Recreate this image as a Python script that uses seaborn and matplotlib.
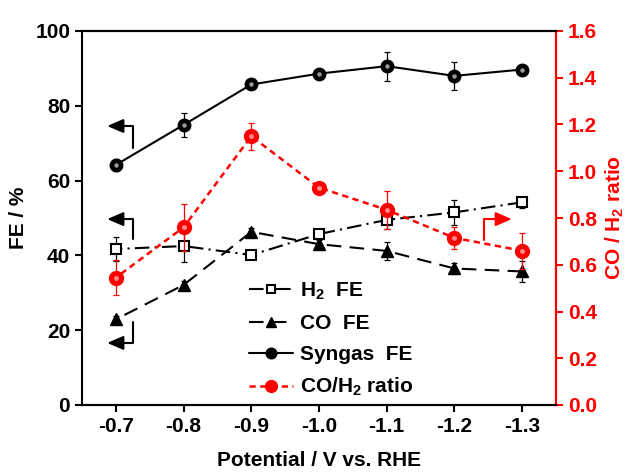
import numpy as np
import pandas as pd
import matplotlib
matplotlib.use("Agg")
import matplotlib.pyplot as plt
import seaborn as sns

# data
potential = [-0.7, -0.8, -0.9, -1.0, -1.1, -1.2, -1.3]
x_labels = ["-0.7", "-0.8", "-0.9", "-1.0", "-1.1", "-1.2", "-1.3"]
h2_fe = [41.7, 42.5, 40.1, 45.7, 49.5, 51.5, 54.2]
h2_err = [3.2, 4.3, 1.0, 1.0, 2.5, 3.3, 1.5]
co_fe = [22.9, 32.1, 46.3, 43.0, 41.2, 36.5, 35.7]
co_err = [1.0, 1.0, 1.0, 1.0, 2.5, 1.5, 2.9]
syngas_fe = [64.2, 74.9, 85.7, 88.6, 90.6, 88.0, 89.7]
syngas_err = [1.5, 3.3, 1.0, 1.0, 3.9, 3.7, 1.0]
ratio = [0.545, 0.76, 1.15, 0.93, 0.835, 0.715, 0.66]
ratio_err = [0.075, 0.10, 0.057, 0.02, 0.08, 0.047, 0.077]

df = pd.DataFrame({"potential": potential, "h2": h2_fe, "co": co_fe,
                   "syngas": syngas_fe, "ratio": ratio})

sns.set_style("ticks")
plt.rcParams["font.family"] = ["Liberation Sans", "DejaVu Sans"]
plt.rcParams["font.weight"] = "bold"
plt.rcParams["axes.unicode_minus"] = False
plt.rcParams["mathtext.fontset"] = "custom"
plt.rcParams["mathtext.rm"] = "Liberation Sans:bold"
plt.rcParams["mathtext.bf"] = "Liberation Sans:bold"
plt.rcParams["mathtext.default"] = "bf"
for k in ["text.color", "axes.labelcolor", "xtick.color", "ytick.color",
          "axes.edgecolor"]:
    plt.rcParams[k] = "black"

fs = 15
red = "#ff0000"

fig, ax = plt.subplots(figsize=(6.33, 4.74), dpi=100)
fig.subplots_adjust(left=82/633, right=556/633, bottom=1-405/474, top=1-31/474)
ax2 = ax.twinx()

# H2 FE
ax.errorbar(potential, h2_fe, yerr=h2_err, fmt="none", ecolor="black",
            elinewidth=0.9, capsize=2.5, capthick=0.9)
sns.lineplot(data=df, x="potential", y="h2", ax=ax, color="black", lw=1.5,
             linestyle=(0, (7, 2.5, 1, 2.5)), marker="s", markersize=6.5,
             markerfacecolor="white", markeredgecolor="black",
             markeredgewidth=1.5, label="H$_2$  FE", zorder=3)
# CO FE
ax.errorbar(potential, co_fe, yerr=co_err, fmt="none", ecolor="black",
            elinewidth=0.9, capsize=2.5, capthick=0.9)
sns.lineplot(data=df, x="potential", y="co", ax=ax, color="black", lw=1.5,
             linestyle=(0, (7, 4)), marker="^", markersize=8.5,
             markerfacecolor="black", markeredgecolor="black",
             markeredgewidth=1, label="CO  FE", zorder=3)
# Syngas FE
ax.errorbar(potential, syngas_fe, yerr=syngas_err, fmt="none", ecolor="black",
            elinewidth=0.9, capsize=2.5, capthick=0.9)
sns.lineplot(data=df, x="potential", y="syngas", ax=ax, color="black", lw=1.5,
             marker="o", markersize=9, markerfacecolor="black",
             markeredgecolor="black", markeredgewidth=1,
             label="Syngas  FE", zorder=3)
ax.plot(potential, syngas_fe, ls="none", marker="o", markersize=2.2,
        color="#9a9a9a", zorder=4)

# CO/H2 ratio
ax2.errorbar(potential, ratio, yerr=ratio_err, fmt="none", ecolor=red,
             elinewidth=0.9, capsize=2.5, capthick=0.9)
sns.lineplot(data=df, x="potential", y="ratio", ax=ax2, color=red, lw=1.8,
             linestyle=(0, (2.5, 1.8)), marker="o", markersize=10,
             markerfacecolor=red, markeredgecolor=red, markeredgewidth=1,
             label="CO/H$_2$ ratio", zorder=3)
ax2.plot(potential, ratio, ls="none", marker="o", markersize=2.5,
         color="#ff8a8a", zorder=4)

ax.set_xlim(-0.65, -1.35)
ax.set_xticks(potential)
ax.set_xticklabels(x_labels)
ax.set_ylim(0, 100)
ax.set_yticks([0, 20, 40, 60, 80, 100])
ax2.set_ylim(0, 1.6)
ax2.set_yticks(np.arange(0, 1.61, 0.2))
ax2.set_yticklabels([f"{v:.1f}" for v in np.arange(0, 1.61, 0.2)])

ax.set_xlabel("Potential / V vs. RHE", fontsize=fs, fontweight="bold", labelpad=11)
ax.set_ylabel("FE / %", fontsize=fs, fontweight="bold", labelpad=5)
ax2.set_ylabel("CO / H$_2$ ratio", fontsize=fs, fontweight="bold", color=red,
               labelpad=5)

for a in (ax, ax2):
    for s in a.spines.values():
        s.set_linewidth(1.5)
        s.set_visible(True)
ax2.spines["right"].set_color(red)
ax2.spines["left"].set_visible(False)
ax.tick_params(axis="both", labelsize=fs, width=1.5, length=5, pad=3.5)
ax2.tick_params(axis="y", labelsize=fs, width=1.5, length=5, pad=3.5,
                colors=red)
for lab in ax.get_xticklabels() + ax.get_yticklabels() + ax2.get_yticklabels():
    lab.set_fontweight("bold")

# legend
h1, l1 = ax.get_legend_handles_labels()
h2, l2 = ax2.get_legend_handles_labels()
if ax.get_legend():
    ax.get_legend().remove()
ax2.legend(h1 + h2, l1 + l2, loc="upper left", bbox_to_anchor=(0.335, 0.355),
           frameon=False, handlelength=2.1, handletextpad=0.35,
           labelspacing=0.58, borderaxespad=0, markerscale=0.85,
           prop={"weight": "bold", "size": fs})

# pointing arrows
arrow = dict(arrowstyle="-|>,head_length=0.7,head_width=0.3", lw=1.5,
             shrinkA=0, shrinkB=0, mutation_scale=14)
for head, tail, col, cs in [
        ((0.053, 0.746), (0.108, 0.687), "black", "angle,angleA=90,angleB=0,rad=0"),
        ((0.053, 0.497), (0.108, 0.444), "black", "angle,angleA=90,angleB=0,rad=0"),
        ((0.053, 0.166), (0.108, 0.222), "black", "angle,angleA=-90,angleB=0,rad=0"),
        ((0.907, 0.497), (0.848, 0.441), red, "angle,angleA=90,angleB=0,rad=0")]:
    ax2.annotate("", xy=head, xytext=tail, xycoords="axes fraction",
                 textcoords="axes fraction",
                 arrowprops=dict(arrow, color=col, connectionstyle=cs))

fig.savefig("out.png", dpi=100)
